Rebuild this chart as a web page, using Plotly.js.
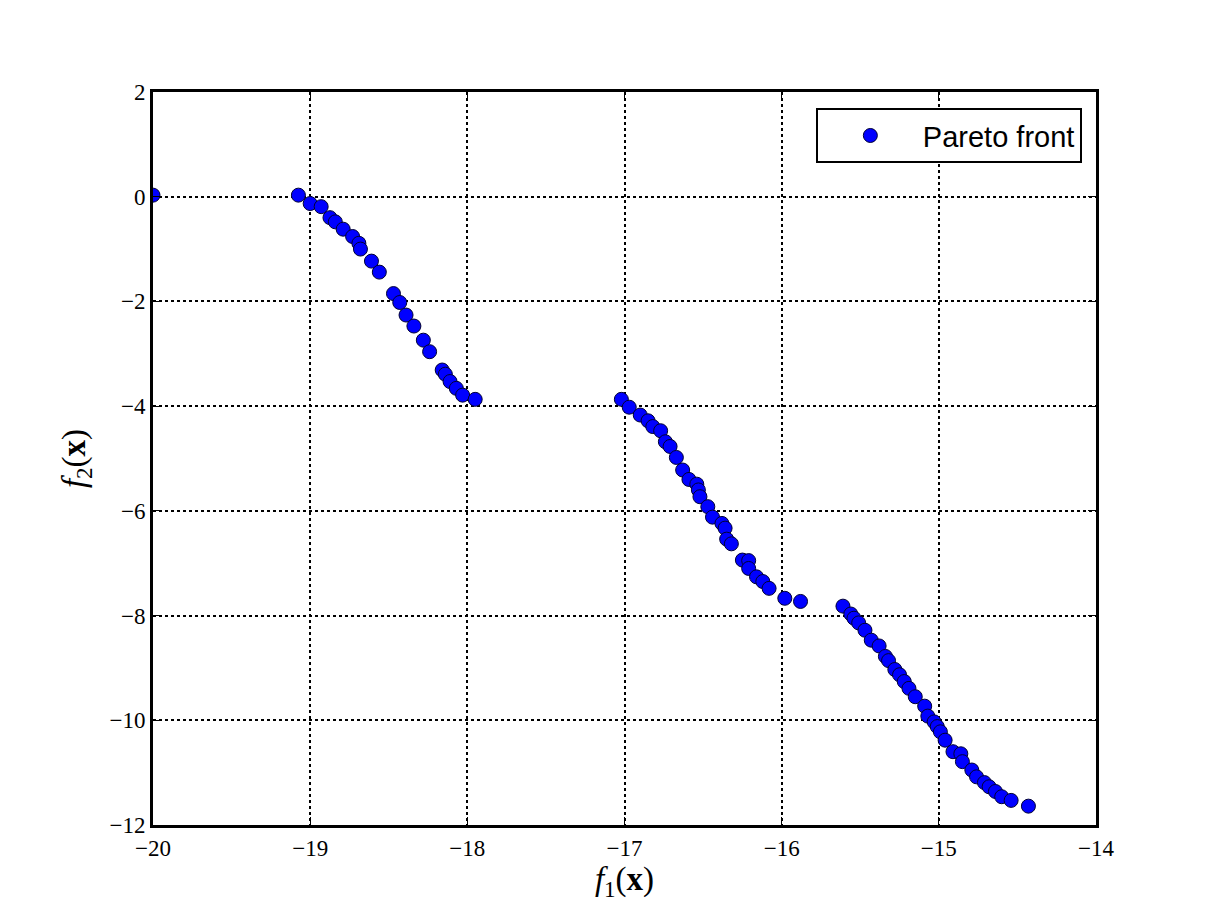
<!DOCTYPE html>
<html>
<head>
<meta charset="utf-8">
<script src="https://cdn.plot.ly/plotly-3.0.1.min.js"></script>
<style>html,body{margin:0;padding:0;background:#fff;}#chart{width:1218px;height:918px;}</style>
</head>
<body>
<div id="chart"></div>
<script>
const f1 = [
  -20.0, -19.075, -19.0, -18.93, -18.874, -18.84, -18.79, -18.73, -18.69, -18.68,
  -18.61, -18.56, -18.47, -18.43, -18.39, -18.34, -18.28, -18.24, -18.16, -18.14,
  -18.11, -18.07, -18.03, -17.95,
  -17.02, -16.97, -16.90, -16.85, -16.82, -16.77, -16.74, -16.71, -16.67, -16.63,
  -16.59, -16.54, -16.53, -16.52, -16.47, -16.44, -16.38, -16.36, -16.35, -16.32,
  -16.25, -16.21, -16.21, -16.16, -16.12, -16.08, -15.98, -15.88,
  -15.61, -15.56, -15.54, -15.51, -15.47, -15.43, -15.38, -15.34, -15.32, -15.28,
  -15.25, -15.22, -15.19, -15.15, -15.09, -15.07, -15.03, -15.01, -14.99, -14.96,
  -14.91, -14.86, -14.85, -14.79, -14.76, -14.71, -14.68, -14.64, -14.60, -14.54,
  -14.43
];
const f2 = [
  0.03, 0.03, -0.13, -0.19, -0.40, -0.48, -0.62, -0.76, -0.89, -1.00,
  -1.23, -1.44, -1.85, -2.02, -2.26, -2.47, -2.74, -2.96, -3.31, -3.39,
  -3.53, -3.66, -3.79, -3.87,
  -3.87, -4.02, -4.17, -4.28, -4.39, -4.47, -4.68, -4.77, -4.98, -5.22,
  -5.40, -5.49, -5.60, -5.73, -5.92, -6.12, -6.24, -6.33, -6.54, -6.63,
  -6.94, -6.95, -7.10, -7.26, -7.35, -7.48, -7.67, -7.73,
  -7.82, -7.97, -8.05, -8.14, -8.28, -8.47, -8.58, -8.78, -8.86, -9.03,
  -9.13, -9.26, -9.39, -9.55, -9.73, -9.92, -10.03, -10.12, -10.22, -10.38,
  -10.60, -10.64, -10.79, -10.95, -11.08, -11.19, -11.27, -11.36, -11.46, -11.53,
  -11.64
];
const seriesName = "Pareto front";
const xTicks = [-20, -19, -18, -17, -16, -15, -14];
const yTicks = [2, 0, -2, -4, -6, -8, -10, -12];
const fmt = v => (v < 0 ? "\u2212" + Math.abs(v) : String(v));

const serif = "Liberation Serif, DejaVu Serif, serif";
const axisCommon = {
  showline: true, linecolor: "black", linewidth: 3, mirror: "ticks",
  ticks: "inside", ticklen: 8, tickwidth: 1, tickcolor: "black",
  showgrid: true, gridcolor: "black", gridwidth: 2, griddash: "dot",
  zeroline: false,
  tickfont: {family: serif, size: 23, color: "black"},
  tickmode: "array"
};

const trace = {
  x: f1, y: f2, mode: "markers", type: "scatter", name: seriesName,
  marker: {color: "#0000ff", size: 14, line: {color: "#000033", width: 1}}
};

const layout = {
  width: 1218, height: 918,
  margin: {l: 153, r: 122, t: 92, b: 93},
  paper_bgcolor: "white", plot_bgcolor: "white",
  showlegend: true,
  legend: {
    x: 0.985, y: 0.978, xanchor: "right", yanchor: "top",
    bgcolor: "white", bordercolor: "black", borderwidth: 2,
    font: {family: "Liberation Sans, Arial, sans-serif", size: 29, color: "black"},
    itemwidth: 95
  },
  xaxis: Object.assign({}, axisCommon, {
    range: [-20, -14], tickvals: xTicks, ticktext: xTicks.map(fmt),
    title: {text: "<i>f</i><sub>1</sub>(<b>x</b>)", font: {family: serif, size: 33, color: "black"}, standoff: 2}
  }),
  yaxis: Object.assign({}, axisCommon, {
    range: [-12, 2], tickvals: yTicks, ticktext: yTicks.map(fmt),
    title: {text: "<i>f</i><sub>2</sub>(<b>x</b>)", font: {family: serif, size: 33, color: "black"}, standoff: 14}
  })
};

Plotly.newPlot("chart", [trace], layout, {displayModeBar: false, staticPlot: true});
</script>
</body>
</html>
